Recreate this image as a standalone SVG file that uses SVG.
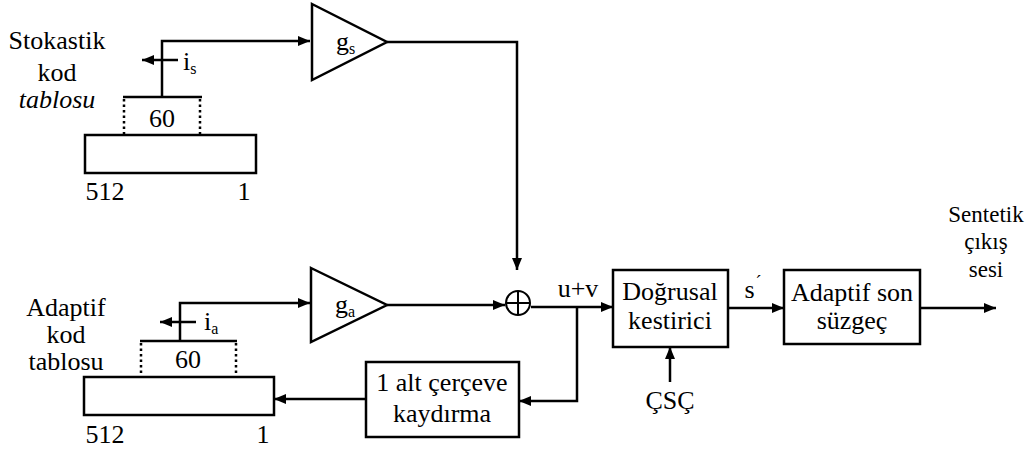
<svg xmlns="http://www.w3.org/2000/svg" width="1032" height="450" viewBox="0 0 1032 450">
<style>
.t{font-family:'Liberation Serif','Times New Roman','DejaVu Serif',serif;font-size:26px;fill:#000;text-anchor:middle}
.sub{font-size:16px}
.sm{font-size:23px}
.ln{fill:none;stroke:#000;stroke-width:2.5}
.dot{fill:none;stroke:#000;stroke-width:2.5;stroke-dasharray:2.5 3}
.box{fill:#fff;stroke:#000;stroke-width:2.5}
</style>
<defs>
<marker id="ah" viewBox="0 0 12 10" refX="12" refY="5" markerWidth="12" markerHeight="10" markerUnits="userSpaceOnUse" orient="auto">
<path d="M0,0 L12,5 L0,10 Z" fill="#000"/>
</marker>
</defs>
<rect width="1032" height="450" fill="#fff"/>

<g id="stokastik" class="t" font-family="Liberation Serif, serif">
<text x="57" y="49">Stokastik</text>
<text x="57" y="81">kod</text>
<text x="57" y="108" font-style="italic">tablosu</text>
<line class="ln" x1="123" y1="97" x2="202" y2="97"/>
<line class="dot" x1="124" y1="99" x2="124" y2="135"/>
<line class="dot" x1="200" y1="99" x2="200" y2="135"/>
<text x="162" y="127">60</text>
<rect class="box" x="85" y="135" width="171" height="38"/>
<text x="105" y="200">512</text>
<text x="244" y="200">1</text>
</g>

<g id="adaptif-kod" class="t" font-family="Liberation Serif, serif">
<text x="66" y="316">Adaptif</text>
<text x="66" y="343">kod</text>
<text x="66" y="370">tablosu</text>
<line class="ln" x1="140" y1="341" x2="237" y2="341"/>
<line class="dot" x1="141" y1="343" x2="141" y2="377"/>
<line class="dot" x1="236" y1="343" x2="236" y2="377"/>
<text x="188" y="368">60</text>
<rect class="box" x="84" y="377" width="190" height="38"/>
<text x="105" y="443">512</text>
<text x="263" y="443">1</text>
</g>

<g id="gs" class="t" font-family="Liberation Serif, serif">
<path class="box" d="M312,4 L387,42 L312,80 Z"/>
<text x="336" y="50" text-anchor="start">g<tspan class="sub" dy="4">s</tspan></text>
</g>

<g id="ga" class="t" font-family="Liberation Serif, serif">
<path class="box" d="M311,268 L387,305 L311,342 Z"/>
<text x="335" y="313" text-anchor="start">g<tspan class="sub" dy="4">a</tspan></text>
</g>

<g id="sum">
<circle cx="518" cy="303" r="12" fill="#fff" stroke="#000" stroke-width="2"/>
<line x1="506" y1="303" x2="530" y2="303" stroke="#000" stroke-width="2"/>
<line x1="518" y1="291" x2="518" y2="315" stroke="#000" stroke-width="2"/>
</g>

<g id="kaydirma" class="t" font-family="Liberation Serif, serif">
<rect class="box" x="366" y="362" width="153" height="75"/>
<text x="442" y="391">1 alt çerçeve</text>
<text x="442" y="422">kaydırma</text>
</g>

<g id="dogrusal" class="t" font-family="Liberation Serif, serif">
<rect class="box" x="613" y="270" width="115" height="77"/>
<text x="670" y="300">Doğrusal</text>
<text x="670" y="329">kestirici</text>
</g>

<g id="adaptif-son" class="t" font-family="Liberation Serif, serif">
<rect class="box" x="784" y="270" width="136" height="74"/>
<text x="852" y="301">Adaptif son</text>
<text x="852" y="329">süzgeç</text>
</g>

<g id="labels" class="t" font-family="Liberation Serif, serif">
<text x="578" y="297">u+v</text>
<text x="670" y="409">ÇSÇ</text>
<text x="753" y="298">s<tspan dx="1" dy="-10" font-size="18">´</tspan></text>
<text class="sm" x="986" y="222">Sentetik</text>
<text class="sm" x="986" y="249">çıkış</text>
<text class="sm" x="986" y="277">sesi</text>
<text x="183" y="70" text-anchor="start">i<tspan class="sub" dy="4">s</tspan></text>
<text x="204" y="330" text-anchor="start">i<tspan class="sub" dy="4">a</tspan></text>
</g>

<g id="connectors">
<path class="ln" d="M162,97 V41 H310" marker-end="url(#ah)"/>
<path class="ln" d="M178,60 H142" marker-end="url(#ah)"/>
<path class="ln" d="M387,42 H517 V270" marker-end="url(#ah)"/>
<path class="ln" d="M180,341 V303 H310" marker-end="url(#ah)"/>
<path class="ln" d="M196,322 H160" marker-end="url(#ah)"/>
<path class="ln" d="M387,305 H505" marker-end="url(#ah)"/>
<path class="ln" d="M531,307 H613" marker-end="url(#ah)"/>
<path class="ln" d="M577,307 V401 H519" marker-end="url(#ah)"/>
<path class="ln" d="M366,399 H274" marker-end="url(#ah)"/>
<path class="ln" d="M670,382 V347" marker-end="url(#ah)"/>
<path class="ln" d="M728,308 H784" marker-end="url(#ah)"/>
<path class="ln" d="M920,308 H996" marker-end="url(#ah)"/>
</g>
</svg>
